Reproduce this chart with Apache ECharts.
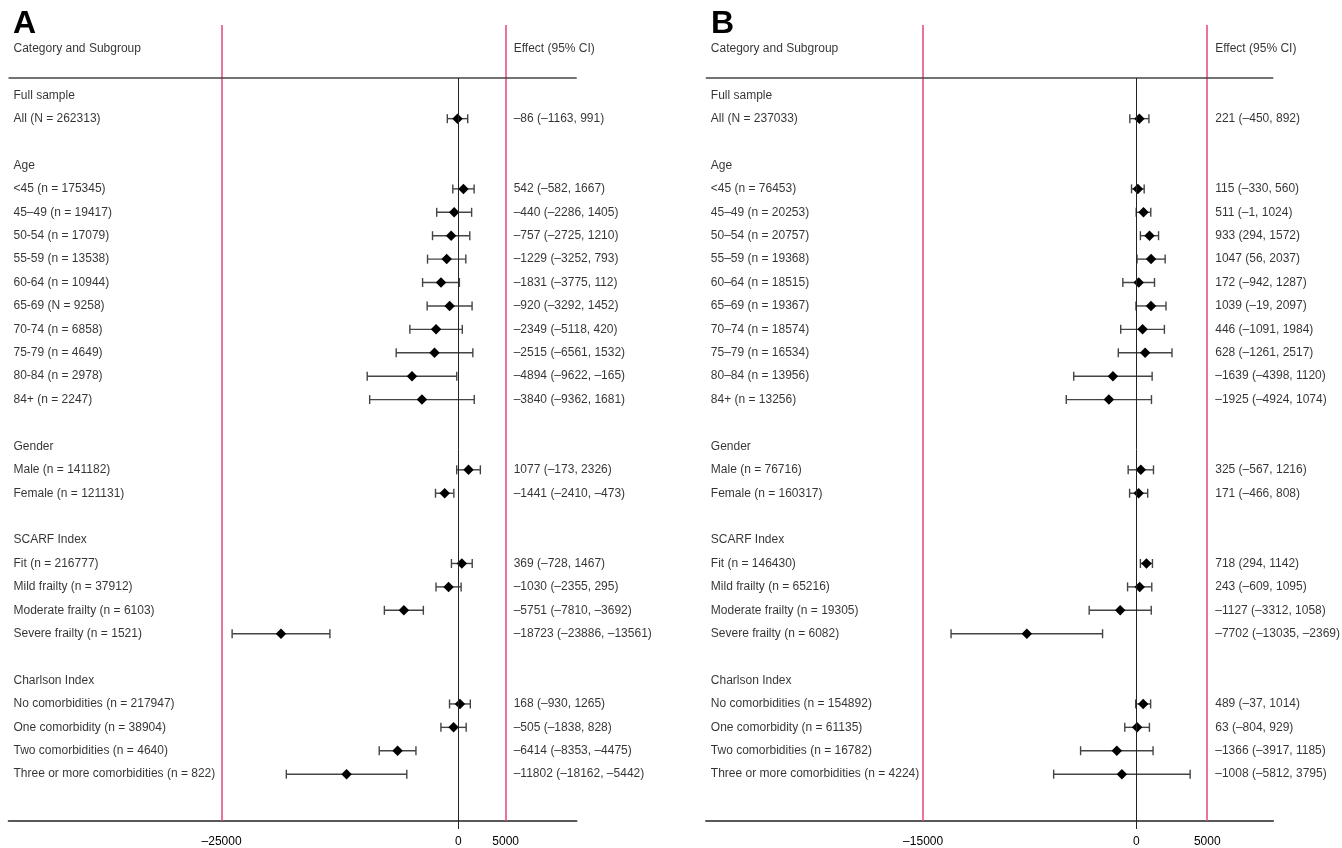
<!DOCTYPE html>
<html><head><meta charset="utf-8">
<script src="https://cdn.jsdelivr.net/npm/echarts@6/dist/echarts.min.js"></script>
<style>html,body{margin:0;padding:0;background:#fff}#c{width:1342px;height:848px}</style>
</head><body><div id="c"></div>
<script>
// ---------- DATA ----------
const rowLabelsA = ['Full sample','All (N = 262313)','','Age','<45 (n = 175345)','45\u201349 (n = 19417)','50-54 (n = 17079)','55-59 (n = 13538)','60-64 (n = 10944)','65-69 (N = 9258)','70-74 (n = 6858)','75-79 (n = 4649)','80-84 (n = 2978)','84+ (n = 2247)','','Gender','Male (n = 141182)','Female (n = 121131)','','SCARF Index','Fit (n = 216777)','Mild frailty (n = 37912)','Moderate frailty (n = 6103)','Severe frailty (n = 1521)','','Charlson Index','No comorbidities (n = 217947)','One comorbidity (n = 38904)','Two comorbidities (n = 4640)','Three or more comorbidities (n = 822)'];
const estA  = [null,-86,null,null,542,-440,-757,-1229,-1831,-920,-2349,-2515,-4894,-3840,null,null,1077,-1441,null,null,369,-1030,-5751,-18723,null,null,168,-505,-6414,-11802];
const lowA  = [null,-1163,null,null,-582,-2286,-2725,-3252,-3775,-3292,-5118,-6561,-9622,-9362,null,null,-173,-2410,null,null,-728,-2355,-7810,-23886,null,null,-930,-1838,-8353,-18162];
const highA = [null,991,null,null,1667,1405,1210,793,112,1452,420,1532,-165,1681,null,null,2326,-473,null,null,1467,295,-3692,-13561,null,null,1265,828,-4475,-5442];

const rowLabelsB = ['Full sample','All (N = 237033)','','Age','<45 (n = 76453)','45\u201349 (n = 20253)','50\u201354 (n = 20757)','55\u201359 (n = 19368)','60\u201364 (n = 18515)','65\u201369 (n = 19367)','70\u201374 (n = 18574)','75\u201379 (n = 16534)','80\u201384 (n = 13956)','84+ (n = 13256)','','Gender','Male (n = 76716)','Female (n = 160317)','','SCARF Index','Fit (n = 146430)','Mild frailty (n = 65216)','Moderate frailty (n = 19305)','Severe frailty (n = 6082)','','Charlson Index','No comorbidities (n = 154892)','One comorbidity (n = 61135)','Two comorbidities (n = 16782)','Three or more comorbidities (n = 4224)'];
const estB  = [null,221,null,null,115,511,933,1047,172,1039,446,628,-1639,-1925,null,null,325,171,null,null,718,243,-1127,-7702,null,null,489,63,-1366,-1008];
const lowB  = [null,-450,null,null,-330,-1,294,56,-942,-19,-1091,-1261,-4398,-4924,null,null,-567,-466,null,null,294,-609,-3312,-13035,null,null,-37,-804,-3917,-5812];
const highB = [null,892,null,null,560,1024,1572,2037,1287,2097,1984,2517,1120,1074,null,null,1216,808,null,null,1142,1095,1058,-2369,null,null,1014,929,1185,3795];

const refLinesA = [-25000, 5000];
const refLinesB = [-15000, 5000];
const tickLabelsA = [-25000, 0, 5000];
const tickLabelsB = [-15000, 0, 5000];
const headerLeft = 'Category and Subgroup';
const headerRight = 'Effect (95% CI)';
const panelTitles = ['A', 'B'];

// ---------- STYLE / LAYOUT ----------
const FONT = 'Liberation Sans, Arial, Helvetica, sans-serif';
const TXT = '#000';
const RED = '#e8457a';
const SEP_ROW = -0.735;
const Y_MIN = -3, Y_MAX = 31;

function fmt(v){ return v < 0 ? '\u2013' + Math.abs(v) : String(v); }

function panel(idx, labels, est, low, high, refs, ticks, xmin, xmax){
  const textSeries = {
    type: 'scatter', xAxisIndex: idx, yAxisIndex: idx, silent: true, symbolSize: 0,
    data: [{value:[xmin, -2], name: headerLeft}].concat(
      labels.map((t,i)=> t ? {value:[xmin, i], name:t} : null).filter(Boolean)),
    label: {show:true, position:'right', distance:5, formatter:'{b}', color:TXT, fontSize:12, fontFamily:FONT},
    z: 5
  };
  const effData = [{value:[refs[1], -2], name: headerRight}];
  est.forEach((e,i)=>{ if(e!==null) effData.push({value:[refs[1], i], name: fmt(e)+' ('+fmt(low[i])+', '+fmt(high[i])+')'}); });
  const effSeries = {
    type: 'scatter', xAxisIndex: idx, yAxisIndex: idx, silent: true, symbolSize: 0,
    data: effData,
    label: {show:true, position:'right', distance:8, formatter:'{b}', color:TXT, fontSize:12, fontFamily:FONT},
    z: 5
  };
  const errData = [];
  est.forEach((e,i)=>{ if(e!==null) errData.push([low[i], high[i], i]); });
  const errSeries = {
    type: 'custom', xAxisIndex: idx, yAxisIndex: idx, silent: true,
    encode: {x:[0,1], y:2},
    data: errData,
    renderItem: function(params, api){
      const y = api.value(2);
      const p1 = api.coord([api.value(0), y]);
      const p2 = api.coord([api.value(1), y]);
      const h = 4.5;
      const st = {stroke:'#444', lineWidth:1.4};
      return {type:'group', children:[
        {type:'line', shape:{x1:p1[0], y1:p1[1], x2:p2[0], y2:p2[1]}, style:st},
        {type:'line', shape:{x1:p1[0], y1:p1[1]-h, x2:p1[0], y2:p1[1]+h}, style:st},
        {type:'line', shape:{x1:p2[0], y1:p2[1]-h, x2:p2[0], y2:p2[1]+h}, style:st}
      ]};
    },
    z: 3
  };
  const ptData = [];
  est.forEach((e,i)=>{ if(e!==null) ptData.push([e, i]); });
  const ptSeries = {
    type: 'scatter', xAxisIndex: idx, yAxisIndex: idx, silent: true,
    symbol: 'diamond', symbolSize: 10.5,
    itemStyle: {color:'#000', opacity:1},
    data: ptData, z: 4,
    markLine: {
      silent: true, symbol: 'none', animation: false,
      label: {show:false},
      data: [
        {xAxis: refs[0], lineStyle:{color:RED, width:1.5, type:'solid'}},
        {xAxis: refs[1], lineStyle:{color:RED, width:1.5, type:'solid'}},
        {yAxis: SEP_ROW, lineStyle:{color:'#444', width:1.6, type:'solid'}},
        [{coord:[0, SEP_ROW], lineStyle:{color:'#222', width:1, type:'solid'}}, {coord:[0, Y_MAX]}]
      ]
    }
  };
  return [errSeries, ptSeries, textSeries, effSeries];
}

const chart = echarts.init(document.getElementById('c'), null, {renderer:'canvas'});
const xA = {min:-47500, max:12500};
const xB = {min:-30300, max:9650};
function xAxis(idx, r, ticks){
  return {
    type:'value', gridIndex: idx, min:r.min, max:r.max, position:'bottom',
    splitLine:{show:false},
    axisLine:{show:true, onZero:false, lineStyle:{color:'#222', width:1.6}},
    axisTick:{show:true, customValues:[0], length:8, lineStyle:{color:'#222', width:1}},
    axisLabel:{customValues:ticks, formatter: v => fmt(v), margin:15, fontSize:12, color:TXT, fontFamily:FONT}
  };
}
function yAxis(idx){
  return {type:'value', gridIndex: idx, inverse:true, min:Y_MIN, max:Y_MAX, show:false};
}
chart.setOption({
  animation: false,
  backgroundColor: '#fff',
  title: [
    {text: panelTitles[0], left: 8, top: 3, textStyle:{fontSize:32, fontWeight:'bold', color:'#000', fontFamily:FONT}},
    {text: panelTitles[1], left: 706, top: 3, textStyle:{fontSize:32, fontWeight:'bold', color:'#000', fontFamily:FONT}}
  ],
  grid: [
    {left: 8.5, top: 25, width: 568.2, height: 796},
    {left: 705.8, top: 25, width: 567.5, height: 796}
  ],
  xAxis: [xAxis(0, xA, tickLabelsA), xAxis(1, xB, tickLabelsB)],
  yAxis: [yAxis(0), yAxis(1)],
  series: [].concat(
    panel(0, rowLabelsA, estA, lowA, highA, refLinesA, tickLabelsA, xA.min, xA.max),
    panel(1, rowLabelsB, estB, lowB, highB, refLinesB, tickLabelsB, xB.min, xB.max)
  )
});
</script></body></html>
